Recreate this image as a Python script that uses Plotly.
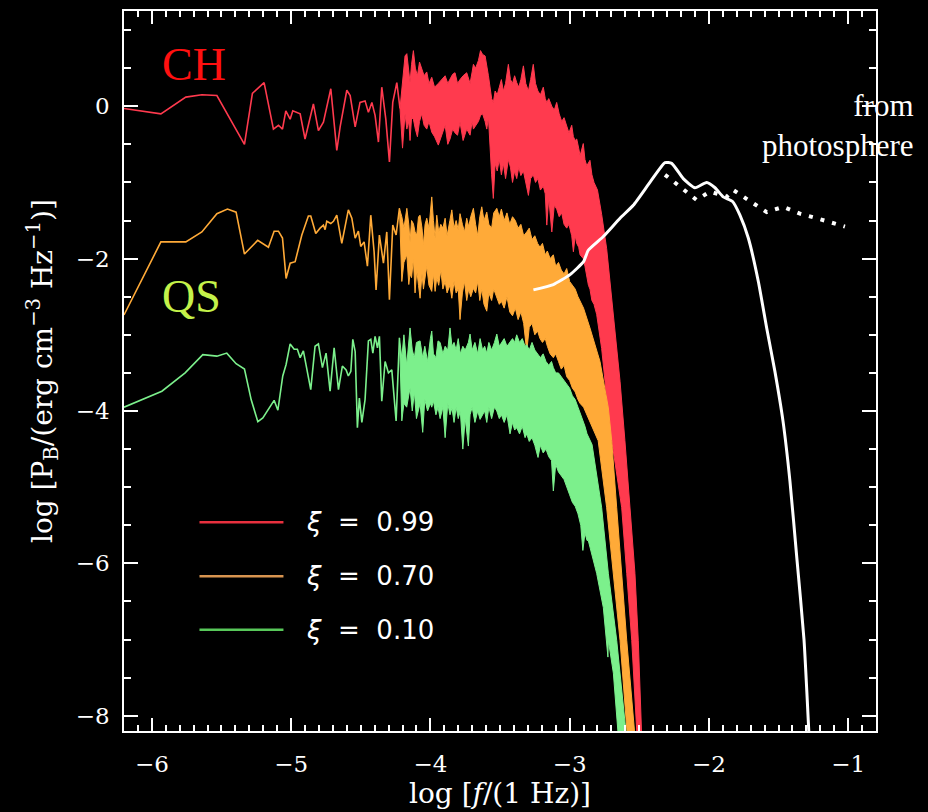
import plotly.graph_objects as go

# ---------------- data (log f, log P) ----------------
# ---- xi = 0.99 (CH) ----
ch_x = [-6.20, -5.935, -5.756, -5.641, -5.533, -5.335, -5.278, -5.194, -5.127, -5.091, -5.062, -5.038,
        -5.007, -4.988, -4.935, -4.90, -4.84, -4.804, -4.768, -4.715, -4.672, -4.648, -4.60, -4.576,
        -4.54, -4.505, -4.469, -4.445, -4.42, -4.397, -4.373, -4.349, -4.32, -4.294, -4.27, -4.241, -4.218]
ch_y = [-0.03, -0.10, 0.12, 0.15, 0.14, -0.50, 0.17, 0.31, -0.30, -0.25, -0.30, -0.06,
        -0.17, -0.06, -0.10, -0.43, 0.03, -0.32, -0.21, 0.23, -0.58, -0.27, 0.21, 0.14,
        -0.27, 0.05, 0.07, -0.08, 0.05, -0.12, -0.47, 0.25, -0.17, -0.73, 0.05, 0.31, -0.03]
# roll-off (steep high-frequency edge) of the band
ch_edge_up_x = [-2.80, -2.77, -2.734, -2.71, -2.686, -2.662, -2.638, -2.603, -2.567, -2.531, -2.507, -2.48]
ch_edge_up_y = [-1.10, -1.42, -1.87, -2.30, -2.73, -3.18, -3.61, -4.39, -5.27, -6.13, -7.01, -8.40]
ch_edge_lo_x = [-2.806, -2.77, -2.746, -2.725, -2.69, -2.626, -2.59, -2.554, -2.512]
ch_edge_lo_y = [-2.73, -3.18, -3.61, -4.04, -4.48, -5.27, -6.13, -7.01, -8.40]
# dense periodogram: local maxima / minima
ch_spk_x = [-4.218, -4.20, -4.182, -4.169, -4.155, -4.146, -4.135, -4.122, -4.108, -4.093, -4.078, -4.062, -4.045,
            -4.026, -4.010, -3.990, -3.970, -3.943, -3.920, -3.894, -3.875, -3.859, -3.840, -3.823, -3.805,
            -3.787, -3.765, -3.739, -3.715, -3.700, -3.691, -3.675, -3.655, -3.640, -3.625, -3.607, -3.595,
            -3.583, -3.560, -3.548, -3.535, -3.520, -3.505, -3.490, -3.476, -3.460, -3.440, -3.425, -3.410,
            -3.395, -3.380, -3.365, -3.350, -3.332, -3.315, -3.296, -3.280, -3.261, -3.245, -3.228, -3.210,
            -3.189, -3.175, -3.164, -3.150, -3.128, -3.110, -3.093, -3.075, -3.057, -3.040, -3.021, -3.005,
            -2.985, -2.973, -2.960, -2.949, -2.935, -2.925, -2.902, -2.890, -2.877, -2.865, -2.854, -2.840,
            -2.825]
ch_spk_hi = [-0.03, 0.35, 0.66, 0.69, 0.45, 0.31, 0.55, 0.73, 0.50, 0.40, 0.58, 0.49, 0.40,
             0.45, 0.30, 0.38, 0.25, 0.30, 0.35, 0.40, 0.30, 0.35, 0.42, 0.44, 0.30,
             0.35, 0.40, 0.44, 0.30, 0.45, 0.55, 0.50, 0.60, 0.73, 0.68, 0.66, 0.55,
             0.40, 0.10, 0.05, 0.20, 0.15, 0.25, 0.35, 0.20, 0.30, 0.55, 0.35, 0.30,
             0.40, 0.31, 0.25, 0.35, 0.53, 0.30, 0.20, 0.35, 0.55, 0.30, 0.20, 0.15,
             0.25, 0.10, 0.05, 0.10, 0.00, -0.05, 0.05, -0.10, -0.20, -0.15, -0.25, -0.35,
             -0.25, -0.40, -0.45, -0.43, -0.55, -0.65, -0.49, -0.70, -0.78, -0.75, -0.71, -0.90,
             -1.00]
ch_spk_lo = [-0.03, -0.55, -0.10, -0.30, -0.20, -0.45, -0.15, -0.17, -0.30, -0.40, -0.20, -0.10, -0.25,
             -0.30, -0.20, -0.34, -0.40, -0.51, -0.40, -0.25, -0.50, -0.43, -0.30, -0.35, -0.38,
             -0.21, -0.45, -0.30, -0.38, -0.20, -0.30, -0.25, -0.20, -0.12, -0.10, -0.20, -0.30,
             -0.15, -0.90, -1.21, -0.75, -0.85, -0.70, -0.90, -0.75, -0.95, -0.70, -0.80, -1.00,
             -0.85, -0.95, -0.80, -0.91, -0.85, -1.00, -1.17, -0.95, -0.90, -1.00, -0.95, -1.10,
             -1.05, -1.15, -1.56, -1.20, -1.65, -1.30, -1.35, -1.45, -1.40, -1.55, -1.60, -1.55,
             -1.70, -1.91, -1.70, -1.80, -1.85, -1.95, -2.00, -2.10, -2.20, -2.35, -2.40, -2.55,
             -2.60]

# ---- xi = 0.70 ----
mid_x = [-6.20, -5.935, -5.756, -5.641, -5.533, -5.457, -5.395, -5.335, -5.24, -5.163, -5.122, -5.091,
         -5.062, -5.036, -5.007, -4.971, -4.923, -4.876, -4.859, -4.823, -4.792, -4.768, -4.756, -4.744,
         -4.715, -4.696, -4.672, -4.636, -4.589, -4.564, -4.54, -4.517, -4.50, -4.476, -4.452, -4.428,
         -4.404, -4.39, -4.366, -4.337, -4.313, -4.294, -4.27, -4.246, -4.222]
mid_y = [-2.74, -1.78, -1.78, -1.65, -1.41, -1.35, -1.39, -1.94, -1.76, -1.85, -1.64, -1.64,
         -1.73, -2.26, -2.06, -2.04, -1.69, -1.44, -1.44, -1.67, -1.60, -1.56, -1.62, -1.51,
         -1.54, -1.51, -1.43, -1.80, -1.36, -1.47, -1.73, -1.64, -1.84, -1.78, -2.10, -1.43,
         -1.91, -2.41, -1.69, -2.06, -1.65, -2.54, -1.56, -1.69, -1.34]
mid_edge_up_x = [-2.90, -2.854, -2.782, -2.722, -2.698, -2.662, -2.626, -2.59, -2.525]
mid_edge_up_y = [-2.65, -2.91, -3.35, -3.96, -4.39, -5.27, -6.13, -7.01, -8.40]
mid_edge_lo_x = [-2.90, -2.877, -2.83, -2.795, -2.734, -2.686, -2.638, -2.58]
mid_edge_lo_y = [-3.95, -4.05, -4.25, -4.39, -5.27, -6.13, -7.01, -8.40]
mid_spk_x = [-4.222, -4.205, -4.190, -4.169, -4.155, -4.146, -4.135, -4.122, -4.110, -4.098, -4.085, -4.074, -4.060,
             -4.050, -4.038, -4.026, -4.010, -3.990, -3.978, -3.966, -3.954, -3.940, -3.925, -3.910, -3.894,
             -3.880, -3.860, -3.846, -3.830, -3.815, -3.800, -3.787, -3.770, -3.755, -3.739, -3.725, -3.710,
             -3.691, -3.675, -3.660, -3.645, -3.631, -3.615, -3.595, -3.580, -3.560, -3.545, -3.523, -3.505,
             -3.490, -3.470, -3.450, -3.430, -3.410, -3.390, -3.370, -3.350, -3.330, -3.308, -3.290, -3.270,
             -3.250, -3.230, -3.213, -3.195, -3.175, -3.160, -3.140, -3.117, -3.100, -3.080, -3.060, -3.040,
             -3.021, -3.000, -2.980, -2.960, -2.940, -2.925]
mid_spk_hi = [-1.34, -1.45, -1.60, -1.34, -1.55, -1.78, -1.50, -1.54, -1.65, -1.69, -1.45, -1.43, -1.60,
              -1.82, -1.55, -1.47, -1.60, -1.19, -1.50, -1.73, -1.43, -1.65, -1.55, -1.60, -1.47,
              -1.70, -1.50, -1.36, -1.60, -1.50, -1.62, -1.41, -1.55, -1.65, -1.47, -1.58, -1.45,
              -1.34, -1.55, -1.70, -1.45, -1.32, -1.50, -1.39, -1.55, -1.60, -1.40, -1.34, -1.45,
              -1.35, -1.50, -1.40, -1.55, -1.45, -1.50, -1.60, -1.55, -1.70, -1.65, -1.60, -1.75,
              -1.70, -1.80, -1.85, -1.80, -1.95, -1.90, -2.00, -1.95, -2.10, -2.05, -2.15, -2.20,
              -2.13, -2.30, -2.35, -2.40, -2.50, -2.55]
mid_spk_lo = [-1.34, -2.30, -2.05, -1.95, -2.34, -2.20, -2.25, -2.00, -2.45, -2.15, -2.35, -2.52, -2.20,
              -2.40, -2.25, -2.10, -2.35, -2.43, -2.20, -2.43, -2.25, -2.35, -2.15, -2.40, -2.30,
              -2.45, -2.35, -2.52, -2.30, -2.45, -2.40, -2.80, -2.45, -2.30, -2.55, -2.40, -2.50,
              -2.39, -2.45, -2.30, -2.55, -2.40, -2.60, -2.69, -2.45, -2.55, -2.40, -2.50, -2.60,
              -2.56, -2.65, -2.50, -2.70, -2.75, -2.65, -2.80, -2.70, -2.85, -3.22, -2.90, -2.85,
              -3.00, -2.95, -3.05, -3.10, -3.05, -3.15, -3.25, -3.30, -3.25, -3.35, -3.45, -3.40,
              -3.55, -3.60, -3.70, -3.75, -3.85, -3.90]

# ---- xi = 0.10 (QS) ----
qs_x = [-6.20, -5.928, -5.761, -5.634, -5.533, -5.462, -5.395, -5.335, -5.287, -5.239, -5.203, -5.122,
        -5.095, -5.06, -5.036, -5.007, -4.978, -4.955, -4.935, -4.912, -4.859, -4.828, -4.804, -4.775,
        -4.749, -4.72, -4.691, -4.66, -4.632, -4.605, -4.589, -4.571, -4.557, -4.54, -4.524, -4.51,
        -4.492, -4.469, -4.445, -4.428, -4.413, -4.397, -4.38, -4.366, -4.349, -4.325, -4.301, -4.277,
        -4.246, -4.222]
qs_y = [-3.95, -3.74, -3.50, -3.26, -3.28, -3.24, -3.38, -3.45, -3.85, -4.14, -4.09, -3.86,
        -3.99, -3.54, -3.39, -3.12, -3.19, -3.19, -3.30, -3.21, -3.72, -3.15, -3.12, -3.43,
        -3.24, -3.74, -3.17, -3.72, -3.41, -3.46, -3.54, -3.48, -3.06, -3.22, -4.22, -3.83,
        -4.15, -3.85, -3.08, -3.06, -3.24, -3.02, -3.17, -3.02, -3.87, -3.35, -3.50, -3.46,
        -4.13, -3.04]
qs_edge_up_x = [-2.86, -2.839, -2.77, -2.722, -2.662, -2.585]
qs_edge_up_y = [-4.35, -4.44, -5.27, -6.13, -7.01, -8.40]
qs_edge_lo_x = [-2.866, -2.806, -2.758, -2.725, -2.722, -2.686, -2.645]
qs_edge_lo_y = [-5.70, -6.13, -6.58, -7.23, -7.01, -7.44, -8.40]
qs_spk_x = [-4.222, -4.205, -4.190, -4.170, -4.146, -4.130, -4.115, -4.100, -4.074, -4.055, -4.040, -4.020, -4.000,
            -3.990, -3.978, -3.960, -3.945, -3.930, -3.910, -3.894, -3.875, -3.859, -3.845, -3.830, -3.815,
            -3.800, -3.785, -3.767, -3.750, -3.727, -3.715, -3.700, -3.680, -3.660, -3.643, -3.625, -3.610,
            -3.595, -3.580, -3.560, -3.540, -3.523, -3.505, -3.490, -3.470, -3.450, -3.428, -3.410, -3.395,
            -3.380, -3.360, -3.340, -3.320, -3.308, -3.290, -3.270, -3.250, -3.227, -3.210, -3.190, -3.170,
            -3.150, -3.130, -3.117, -3.100, -3.080, -3.060, -3.040, -3.020, -3.000, -2.980, -2.960, -2.940,
            -2.920, -2.905, -2.890, -2.875]
qs_spk_hi = [-3.04, -3.30, -3.00, -3.40, -2.91, -3.20, -3.30, -3.10, -3.08, -3.30, -3.15, -3.35, -3.05,
             -2.95, -3.25, -3.30, -3.08, -3.10, -3.25, -3.15, -3.20, -2.91, -3.15, -3.10, -3.20,
             -3.05, -3.25, -3.15, -3.20, -3.10, -2.99, -3.20, -3.10, -3.25, -3.05, -3.20, -3.15,
             -3.24, -3.10, -3.20, -3.10, -2.99, -3.15, -3.10, -3.05, -3.15, -3.10, -3.05, -3.10,
             -3.00, -3.10, -3.05, -3.15, -3.13, -3.20, -3.10, -3.20, -3.26, -3.30, -3.25, -3.35,
             -3.40, -3.35, -3.43, -3.50, -3.50, -3.55, -3.60, -3.65, -3.70, -3.80, -3.85, -3.95,
             -4.05, -4.10, -4.20, -4.30]
qs_spk_lo = [-3.04, -4.13, -3.90, -3.95, -3.70, -4.00, -3.75, -4.10, -3.90, -4.28, -3.85, -4.00, -3.90,
             -3.95, -3.87, -4.05, -3.95, -4.10, -3.95, -4.35, -3.90, -4.05, -3.96, -4.15, -3.95,
             -4.10, -4.00, -4.50, -4.10, -4.46, -4.05, -3.95, -4.15, -4.00, -4.11, -4.05, -4.00,
             -4.15, -3.95, -4.10, -3.95, -4.00, -4.10, -4.05, -4.15, -4.05, -4.30, -4.15, -4.25,
             -4.22, -4.30, -4.20, -4.35, -4.30, -4.40, -4.35, -4.45, -4.61, -4.45, -4.55, -4.50,
             -4.60, -4.65, -5.05, -4.70, -4.80, -4.85, -4.90, -5.00, -5.10, -5.20, -5.25, -5.35,
             -5.50, -5.83, -5.60, -5.70]

# ---- waves from the photosphere ----
ph_x = [-3.26, -3.117, -2.997, -2.90, -2.866, -2.758, -2.638, -2.543, -2.42, -2.315, -2.267, -2.184,
        -2.10, -2.016, -1.956, -1.897, -1.83, -1.777, -1.717, -1.645, -1.585, -1.526, -1.468, -1.418,
        -1.367, -1.317, -1.28]
ph_y = [-2.41, -2.34, -2.21, -2.04, -1.89, -1.71, -1.47, -1.30, -0.99, -0.74, -0.75, -0.95,
        -1.07, -1.00, -1.07, -1.19, -1.25, -1.43, -1.73, -2.30, -2.91, -3.48, -4.13, -4.92,
        -5.96, -7.00, -8.30]
phd_x = [-2.315, -2.22, -2.088, -1.992, -1.872, -1.825, -1.73, -1.585, -1.466, -1.346, -1.226, -1.107, -1.023]
phd_y = [-0.90, -1.04, -1.23, -1.12, -1.19, -1.10, -1.21, -1.39, -1.32, -1.41, -1.47, -1.54, -1.58]

labels = ["0.99", "0.70", "0.10"]
band_colors = ["#ff3a4e", "#ffaa38", "#7cf08c"]
legend_colors = ["#e8303e", "#d89450", "#58c85a"]

# ---------------- figure ----------------
fig = go.Figure()

series = [
    (ch_x, ch_y, ch_spk_x, ch_spk_hi, ch_spk_lo, ch_edge_up_x, ch_edge_up_y, ch_edge_lo_x, ch_edge_lo_y),
    (mid_x, mid_y, mid_spk_x, mid_spk_hi, mid_spk_lo, mid_edge_up_x, mid_edge_up_y, mid_edge_lo_x, mid_edge_lo_y),
    (qs_x, qs_y, qs_spk_x, qs_spk_hi, qs_spk_lo, qs_edge_up_x, qs_edge_up_y, qs_edge_lo_x, qs_edge_lo_y),
]
for (sx, sy, kx, khi, klo, eux, euy, elx, ely), col in zip(series, band_colors):
    # sparse low-frequency part
    fig.add_trace(go.Scatter(x=sx, y=sy, mode="lines", line=dict(color=col, width=1.6),
                             showlegend=False, hoverinfo="skip"))
    # dense part: envelope of maxima (left->right) and minima (right->left)
    ux = kx + eux
    uy = khi + euy
    lx = kx + elx
    ly = klo + ely
    bx = ux + lx[::-1]
    by = uy + ly[::-1]
    fig.add_trace(go.Scatter(x=bx, y=by, mode="lines", fill="toself", fillcolor=col,
                             line=dict(color=col, width=1), showlegend=False, hoverinfo="skip"))

fig.add_trace(go.Scatter(x=ph_x, y=ph_y, mode="lines",
                         line=dict(color="white", width=3, shape="spline", smoothing=0.5),
                         showlegend=False, hoverinfo="skip"))
fig.add_trace(go.Scatter(x=phd_x, y=phd_y, mode="lines", line=dict(color="white", width=4, dash="4px,8px"),
                         showlegend=False, hoverinfo="skip"))

# legend (drawn as lines + text)
leg_y = [-5.46, -6.17, -6.87]
for yv, col, lab in zip(leg_y, legend_colors, labels):
    fig.add_shape(type="line", xref="x", yref="y", x0=-5.658, x1=-5.055, y0=yv, y1=yv,
                  line=dict(color=col, width=2.5))
    fig.add_annotation(xref="x", yref="y", x=-4.91, y=yv, xanchor="left", yanchor="middle",
                       text="<i>ξ</i>\u00a0\u00a0=\u00a0\u00a0" + lab, showarrow=False,
                       font=dict(family="DejaVu Sans", size=26, color="white"))

fig.add_annotation(xref="x", yref="y", x=-5.94, y=0.55, xanchor="left", yanchor="middle", text="CH",
                   showarrow=False, font=dict(family="Liberation Serif", size=46, color="#ff1010"))
fig.add_annotation(xref="x", yref="y", x=-5.94, y=-2.50, xanchor="left", yanchor="middle", text="QS",
                   showarrow=False, font=dict(family="Liberation Serif", size=46, color="#c4f24a"))
fig.add_annotation(xref="paper", yref="paper", x=1.053, y=0.841, xanchor="right", yanchor="middle",
                   align="right", text="from<br>photosphere", showarrow=False,
                   font=dict(family="Liberation Serif", size=31, color="white"))

# axis titles
fig.add_annotation(xref="paper", yref="paper", x=0.5, y=-0.087, xanchor="center", yanchor="middle",
                   text="log [<i>f</i>/(1 Hz)]", showarrow=False,
                   font=dict(family="DejaVu Serif", size=28, color="white"))
fig.add_annotation(xref="paper", yref="paper", x=-0.109, y=0.5, xanchor="center", yanchor="middle",
                   textangle=-90, text="log [P<sub>B</sub>/(erg cm<sup>−3</sup> Hz<sup>−1</sup>)]",
                   showarrow=False, font=dict(family="DejaVu Serif", size=28, color="white"))

axis_common = dict(showline=True, linecolor="white", linewidth=1.5, mirror="allticks", ticks="inside",
                   tickcolor="white", tickwidth=1.5, showgrid=False, zeroline=False,
                   tickfont=dict(family="DejaVu Serif", size=23, color="white"))
fig.update_xaxes(range=[-6.2, -0.8], tick0=0, dtick=1, ticklen=13, ticklabelstandoff=12,
                 minor=dict(dtick=0.1, tick0=0, ticklen=6, ticks="inside", tickcolor="white", tickwidth=1.5),
                 **axis_common)
fig.update_yaxes(range=[-8.2, 1.25], tick0=0, dtick=2, ticklen=14, ticklabelstandoff=8,
                 minor=dict(dtick=0.5, tick0=0, ticklen=7, ticks="inside", tickcolor="white", tickwidth=1.5),
                 **axis_common)

fig.update_layout(width=928, height=812, margin=dict(l=124, r=52, t=9, b=81),
                  paper_bgcolor="black", plot_bgcolor="black", showlegend=False)

fig.write_html("out.html")
